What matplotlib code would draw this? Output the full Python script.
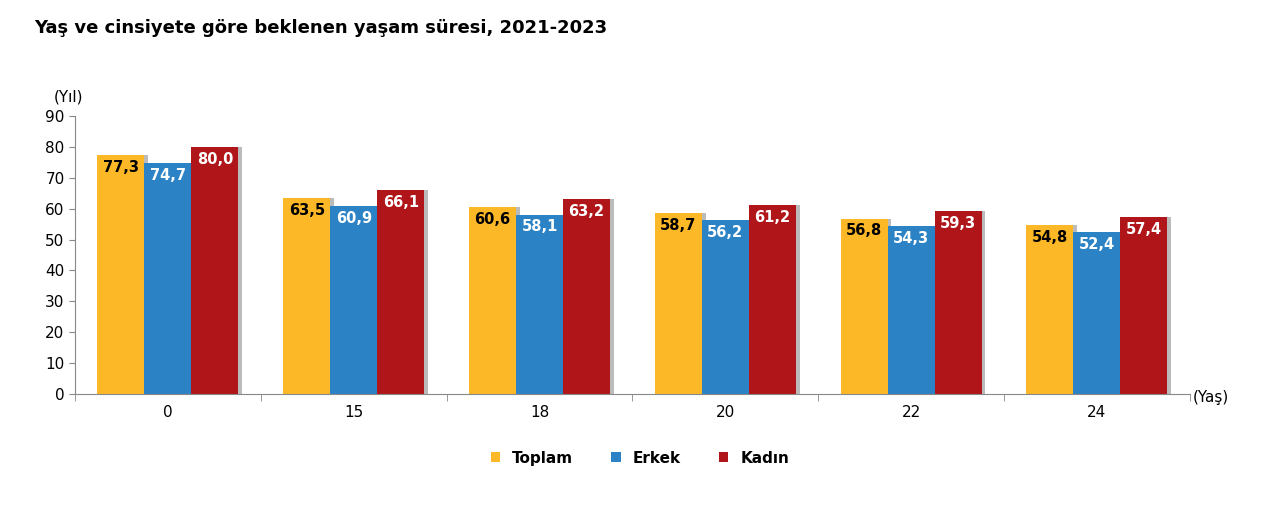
import matplotlib.pyplot as plt
import numpy as np

ages = ["0", "15", "18", "20", "22", "24"]
toplam = [77.3, 63.5, 60.6, 58.7, 56.8, 54.8]
erkek = [74.7, 60.9, 58.1, 56.2, 54.3, 52.4]
kadin = [80.0, 66.1, 63.2, 61.2, 59.3, 57.4]
series = [("Toplam", toplam, "#FDB827", "black"),
          ("Erkek", erkek, "#2B83C6", "white"),
          ("Kadın", kadin, "#B01519", "white")]

fig = plt.figure(figsize=(12.8, 5.09), dpi=100)
ax = fig.add_axes([0.0586, 0.226, 0.871, 0.546])
x = np.arange(len(ages))
w = 0.253
for i, (name, vals, col, tc) in enumerate(series):
    pos = x + (i - 1) * w
    ax.bar(pos + 0.02, vals, w, color="#BBBBBB", zorder=1)
    ax.bar(pos, vals, w, color=col, label=name, zorder=2)
    for p, v in zip(pos, vals):
        ax.text(p, v - 4, f"{v:.1f}".replace(".", ","), ha="center", va="center",
                color=tc, fontsize=10.5, fontweight="bold", zorder=3)

ax.set_xlim(-0.5, len(ages) - 0.5)
ax.set_ylim(0, 90)
ax.set_yticks(range(0, 91, 10))
ax.set_xticks(x)
ax.set_xticklabels(ages, fontsize=11)
ax.set_xticks(np.arange(-0.5, len(ages), 1), minor=True)
ax.tick_params(axis="x", which="major", length=0, pad=8)
ax.tick_params(axis="x", which="minor", length=5, color="#888888")
ax.tick_params(axis="y", labelsize=11, length=4, color="#888888")
for s in ["top", "right"]:
    ax.spines[s].set_visible(False)
for s in ["left", "bottom"]:
    ax.spines[s].set_color("#888888")

fig.text(0.027, 0.945, "Yaş ve cinsiyete göre beklenen yaşam süresi, 2021-2023",
         fontsize=13, fontweight="bold", va="center")
fig.text(0.042, 0.81, "(Yıl)", fontsize=11, va="center")
fig.text(0.932, 0.22, "(Yaş)", fontsize=11, va="center")
fig.legend(loc="center", bbox_to_anchor=(0.5, 0.1), ncol=3, frameon=False,
           fontsize=11, handlelength=0.6, handleheight=0.6, columnspacing=2.5,
           prop={"weight": "bold", "size": 11})
fig.savefig("out.png", dpi=100)
